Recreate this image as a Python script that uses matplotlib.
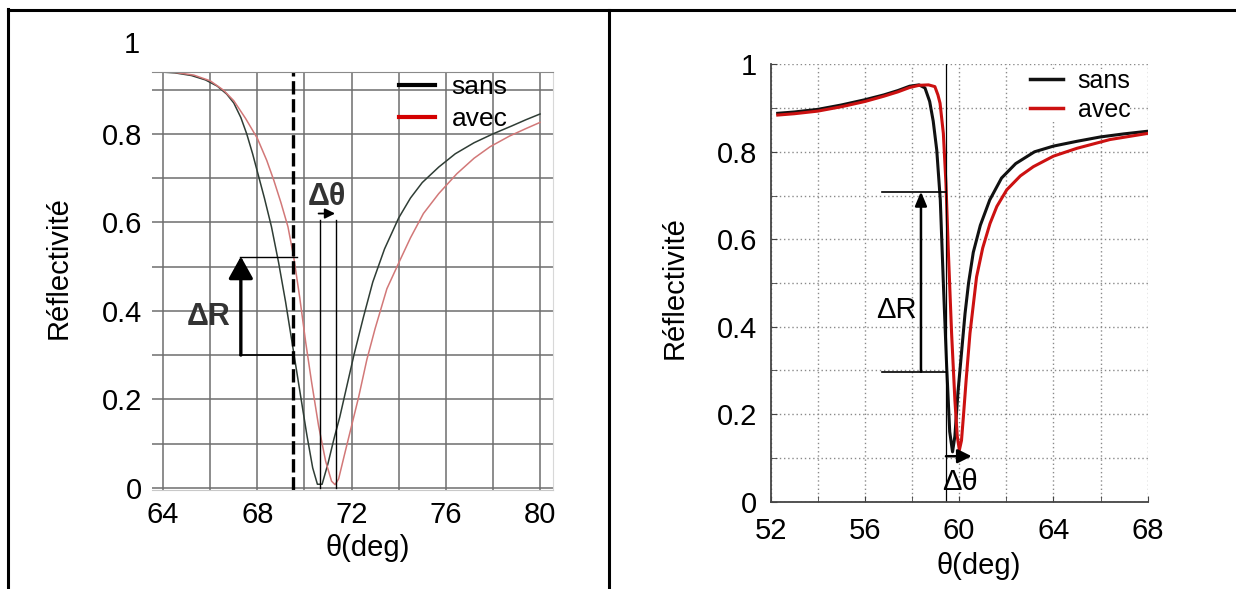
import numpy as np
import matplotlib
matplotlib.use("Agg")
import matplotlib.pyplot as plt
from matplotlib.lines import Line2D
from matplotlib.ticker import MultipleLocator

plt.rcParams['font.family'] = ['Liberation Sans', 'DejaVu Sans']

# ---- left panel : simulated curves ----
left_sans_x = [63.55, 64.5, 65.2, 65.8, 66.3, 66.7, 67.0, 67.3, 67.55, 67.8, 68.05, 68.3,
               68.6, 68.9, 69.2, 69.5, 69.8, 70.1, 70.35, 70.55, 70.75, 71.0, 71.25, 71.5,
               71.8, 72.1, 72.5, 72.9, 73.4, 74.0, 74.5, 75.0, 75.7, 76.4, 77.2, 78.0,
               78.8, 79.4, 80.0]
left_sans_y = [0.941, 0.938, 0.932, 0.922, 0.908, 0.89, 0.87, 0.837, 0.80, 0.755, 0.705, 0.655,
               0.59, 0.51, 0.42, 0.32, 0.22, 0.12, 0.045, 0.008, 0.008, 0.055, 0.11, 0.16,
               0.23, 0.30, 0.385, 0.465, 0.54, 0.61, 0.655, 0.69, 0.725, 0.755, 0.78, 0.80,
               0.818, 0.832, 0.845]
left_avec_x = [63.55, 64.5, 65.3, 66.0, 66.56, 67.0, 67.5, 68.0, 68.4, 68.7, 69.0, 69.3,
               69.55, 69.8, 70.05, 70.3, 70.6, 70.9, 71.15, 71.3, 71.45, 71.7, 72.0, 72.3,
               72.65, 73.0, 73.5, 74.06, 74.5, 75.05, 75.7, 76.47, 77.2, 77.88, 78.7, 79.4, 80.0]
left_avec_y = [0.941, 0.939, 0.933, 0.92, 0.899, 0.875, 0.835, 0.79, 0.74, 0.695, 0.645, 0.59,
               0.52, 0.43, 0.33, 0.24, 0.14, 0.06, 0.015, 0.007, 0.02, 0.075, 0.14, 0.205,
               0.29, 0.36, 0.45, 0.515, 0.565, 0.62, 0.665, 0.71, 0.745, 0.771, 0.795, 0.812, 0.826]
left_xticks = [64, 68, 72, 76, 80]
left_yticks = [0, 0.2, 0.4, 0.6, 0.8]
left_ylabels = ['0', '0.2', '0.4', '0.6', '0.8']

# ---- right panel : measured curves ----
right_sans_x = [52.3, 53.0, 54.0, 55.0, 56.0, 56.8, 57.4, 57.9, 58.3, 58.55, 58.75, 58.9,
                59.05, 59.2, 59.33, 59.47, 59.6, 59.72, 59.82, 59.95, 60.1, 60.25, 60.4,
                60.6, 60.9, 61.3, 61.8, 62.4, 63.2, 64.0, 65.0, 66.0, 67.0, 68.0]
right_sans_y = [0.888, 0.891, 0.897, 0.907, 0.919, 0.930, 0.940, 0.950, 0.953, 0.946, 0.915, 0.87,
                0.804, 0.69, 0.50, 0.31, 0.16, 0.114, 0.15, 0.25, 0.34, 0.43, 0.50,
                0.57, 0.632, 0.69, 0.74, 0.773, 0.80, 0.813, 0.824, 0.834, 0.841, 0.847]
right_avec_x = [52.3, 53.0, 54.0, 55.0, 56.0, 56.8, 57.4, 57.9, 58.3, 58.7, 58.97, 59.1,
                59.19, 59.33, 59.44, 59.54, 59.68, 59.82, 59.92, 60.01, 60.1, 60.18, 60.3,
                60.46, 60.74, 61.0, 61.31, 61.6, 62.02, 62.6, 63.15, 64.0, 65.0, 66.4, 68.0]
right_avec_y = [0.884, 0.887, 0.893, 0.903, 0.915, 0.927, 0.937, 0.947, 0.952, 0.953, 0.949, 0.93,
                0.911, 0.842, 0.728, 0.575, 0.385, 0.232, 0.15, 0.118, 0.14, 0.194, 0.28,
                0.385, 0.514, 0.58, 0.636, 0.675, 0.713, 0.745, 0.766, 0.79, 0.808, 0.828, 0.842]
right_xticks = [52, 56, 60, 64, 68]
right_yticks = [0, 0.2, 0.4, 0.6, 0.8, 1]
right_ylabels = ['0', '0.2', '0.4', '0.6', '0.8', '1']

fig = plt.figure(figsize=(12.36, 5.89), dpi=100)

# table-like frame around the two panels
fig.add_artist(Line2D([0.0065, 0.0065], [0, 0.984], transform=fig.transFigure, color='black', lw=2.2))
fig.add_artist(Line2D([0.0065, 1.0], [0.983, 0.983], transform=fig.transFigure, color='black', lw=2.2))
fig.add_artist(Line2D([0.4927, 0.4927], [0, 0.983], transform=fig.transFigure, color='black', lw=2.2))

# ================= left panel =================
ax1 = fig.add_axes([0.1230, 0.1681, 0.3244, 0.7097])
ax1.plot(left_sans_x, left_sans_y, color='#2f3d35', lw=1.1, label='sans')
ax1.plot(left_avec_x, left_avec_y, color='#d27878', lw=1.1, label='avec')
ax1.set_xlim(63.53, 80.55)
ax1.set_ylim(-0.005, 0.94)
ax1.set_xticks(left_xticks)
ax1.xaxis.set_minor_locator(MultipleLocator(2))
ax1.set_yticks(left_yticks)
ax1.set_yticklabels(left_ylabels)
ax1.yaxis.set_minor_locator(MultipleLocator(0.1))
ax1.grid(True, which='both', color='#6e6e6e', lw=1.1)
ax1.set_axisbelow(True)
ax1.tick_params(which='both', length=0, labelsize=21)
ax1.tick_params(axis='x', pad=8)
ax1.tick_params(axis='y', pad=7)
ax1.spines['left'].set_visible(False)
ax1.spines['top'].set_color('#8a8a8a')
ax1.spines['right'].set_color('#d8d8d8')
ax1.spines['bottom'].set_color('#c8c8c8')
ax1.text(-0.03, 1.0, '1', transform=ax1.get_yaxis_transform(), ha='right', va='center',
         fontsize=21, clip_on=False)
ax1.set_xlabel('θ(deg)', fontsize=21)
ax1.xaxis.set_label_coords(0.539, -0.105)
ax1.set_ylabel('Réflectivité', fontsize=21)
ax1.yaxis.set_label_coords(-0.197, 0.533)

# resonance position marker
ax1.plot([69.53, 69.53], [-0.005, 0.94], color='black', lw=2.4, dashes=(4, 1.4))
# delta R
ax1.plot([67.27, 69.67], [0.521, 0.521], color='black', lw=1.0)
ax1.plot([67.27, 69.46], [0.30, 0.30], color='black', lw=1.2)
ax1.annotate('', xy=(67.30, 0.523), xytext=(67.30, 0.30),
             arrowprops=dict(arrowstyle='-|>,head_length=0.45,head_width=0.25',
                             mutation_scale=30, lw=2.4, color='black', shrinkA=0, shrinkB=0))
ax1.text(65.93, 0.387, 'ΔR', fontsize=22, fontweight='bold', color='#333333',
         ha='center', va='center')
# delta theta
ax1.plot([70.64, 70.64], [0.0, 0.606], color='black', lw=1.0)
ax1.plot([71.34, 71.34], [0.0, 0.606], color='black', lw=1.0)
ax1.annotate('', xy=(71.3, 0.62), xytext=(70.6, 0.62),
             arrowprops=dict(arrowstyle='-|>,head_length=0.5,head_width=0.25',
                             mutation_scale=12, lw=1.3, color='black', shrinkA=0, shrinkB=0))
ax1.text(70.95, 0.658, 'Δθ', fontsize=22, fontweight='bold', color='#333333',
         ha='center', va='center')

leg1 = ax1.legend(loc='upper left', bbox_to_anchor=(0.616, 0.993), frameon=False,
                  fontsize=19, handlelength=1.36, handletextpad=0.64,
                  borderpad=0, borderaxespad=0, labelspacing=0.3)
for ln in leg1.get_lines():
    ln.set_linewidth(3)
leg1.get_lines()[0].set_color('black')
leg1.get_lines()[1].set_color('#d40000')

# ================= right panel =================
ax2 = fig.add_axes([0.6235, 0.1482, 0.3050, 0.7426])
ax2.plot(right_sans_x, right_sans_y, color='#111111', lw=2.2, label='sans')
ax2.plot(right_avec_x, right_avec_y, color='#cc1111', lw=2.2, label='avec')
ax2.set_xlim(52, 68)
ax2.set_ylim(0, 1)
ax2.set_xticks(right_xticks)
ax2.xaxis.set_minor_locator(MultipleLocator(2))
ax2.set_yticks(right_yticks)
ax2.set_yticklabels(right_ylabels)
ax2.yaxis.set_minor_locator(MultipleLocator(0.1))
ax2.grid(True, which='both', color='#8a8a8a', lw=1.0, linestyle=(0, (1, 2)))
ax2.set_axisbelow(True)
ax2.tick_params(which='both', direction='in', length=4, color='#444444', labelsize=21)
ax2.tick_params(axis='x', pad=11)
ax2.tick_params(axis='y', pad=10)
ax2.spines['top'].set_visible(False)
ax2.spines['right'].set_visible(False)
ax2.spines['left'].set_color('#444444')
ax2.spines['bottom'].set_color('#444444')
ax2.spines['left'].set_linewidth(1.3)
ax2.spines['bottom'].set_linewidth(1.3)
ax2.set_xlabel('θ(deg)', fontsize=21)
ax2.xaxis.set_label_coords(0.553, -0.115)
ax2.set_ylabel('Réflectivité', fontsize=21)
ax2.yaxis.set_label_coords(-0.217, 0.489)

ax2.plot([59.44, 59.44], [0, 1], color='black', lw=0.9)
ax2.plot([56.71, 59.44], [0.709, 0.709], color='black', lw=1.2)
ax2.plot([56.71, 59.44], [0.297, 0.297], color='black', lw=1.2)
ax2.annotate('', xy=(58.38, 0.709), xytext=(58.38, 0.297),
             arrowprops=dict(arrowstyle='-|>,head_length=0.6,head_width=0.25',
                             mutation_scale=14, lw=1.8, color='black', shrinkA=0, shrinkB=0))
ax2.text(57.35, 0.438, 'ΔR', fontsize=21, ha='center', va='center')
ax2.annotate('', xy=(60.53, 0.104), xytext=(59.44, 0.104),
             arrowprops=dict(arrowstyle='-|>,head_length=0.6,head_width=0.3',
                             mutation_scale=14, lw=1.8, color='black', shrinkA=0, shrinkB=0))
ax2.text(60.03, 0.046, 'Δθ', fontsize=21, ha='center', va='center')

leg2 = ax2.legend(loc='upper left', bbox_to_anchor=(0.688, 0.99), frameon=True,
                  facecolor='white', edgecolor='none', framealpha=1, fancybox=False,
                  fontsize=18, handlelength=1.3, handletextpad=0.6,
                  borderpad=0, borderaxespad=0, labelspacing=0.2)
for ln in leg2.get_lines():
    ln.set_linewidth(2.5)

fig.savefig('out.png', dpi=100)
